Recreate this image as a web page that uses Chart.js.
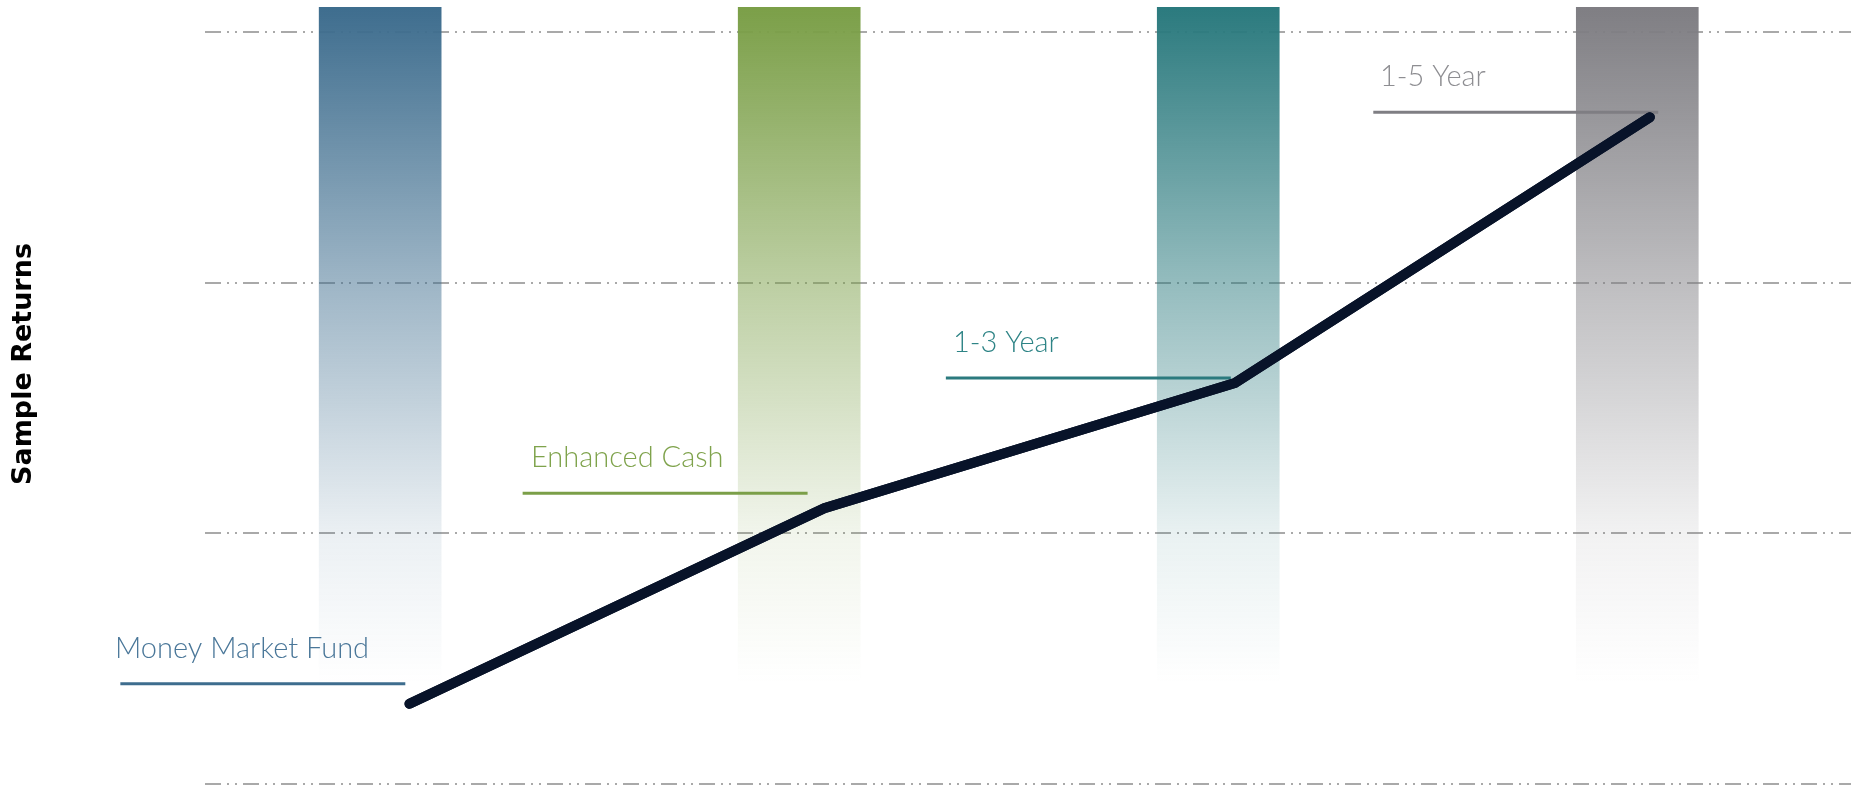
<!DOCTYPE html>
<html>
<head>
<meta charset="utf-8">
<script src="https://cdn.jsdelivr.net/npm/chart.js"></script>
<style>
  html, body { margin: 0; padding: 0; background: #fff; }
  canvas { display: block; }
</style>
</head>
<body>
<canvas id="myChart" width="1865" height="789"></canvas>
<script>
// fund names, in order of risk
var funds = ['Money Market Fund', 'Enhanced Cash', '1-3 Year', '1-5 Year'];

// background columns (floating bars)
var barX = [0, 1, 2, 3];
var barLow = [0.4, 0.4, 0.4, 0.4];
var barHigh = [3.1, 3.1, 3.1, 3.1];

// sample return line
var returnX = [0.07, 1.06, 2.04, 3.03];
var returnY = [0.32, 1.10, 1.60, 2.66];

// label underlines and label text start
var tagStart = [-0.62, 0.34, 1.35, 2.37];
var tagEnd = [0.06, 1.02, 2.03, 3.05];
var tagY = [0.40, 1.16, 1.62, 2.68];
var textStart = [-0.633, 0.36, 1.367, 2.386];

// y gridlines
var gridTicks = [0, 1, 2, 3];

var fundColors = ['#3e6d8e', '#7b9f48', '#2b7a7e', '#7f7e83'];
var textColors = ['#4a7799', '#7fa34c', '#2e8486', '#8e8e92'];

function withAlpha(hex, a) {
    var r = parseInt(hex.substr(1, 2), 16);
    var g = parseInt(hex.substr(3, 2), 16);
    var b = parseInt(hex.substr(5, 2), 16);
    return 'rgba(' + r + ',' + g + ',' + b + ',' + a + ')';
}

function barFill(c) {
    var chart = c.chart;
    if (!chart.chartArea) return fundColors[c.dataIndex];
    var y = chart.scales.y;
    var top = y.getPixelForValue(barHigh[c.dataIndex]);
    var bot = y.getPixelForValue(barLow[c.dataIndex]);
    var col = fundColors[c.dataIndex];
    var g = chart.ctx.createLinearGradient(0, top, 0, bot);
    g.addColorStop(0, withAlpha(col, 1));
    g.addColorStop(0.41, withAlpha(col, 0.5));
    g.addColorStop(0.78, withAlpha(col, 0.1));
    g.addColorStop(1, withAlpha(col, 0));
    return g;
}

var datasets = [{
    type: 'line',
    label: 'Sample Returns',
    data: returnX.map(function (x, i) { return { x: x, y: returnY[i] }; }),
    borderColor: '#081329',
    borderWidth: 10,
    borderCapStyle: 'round',
    borderJoinStyle: 'miter',
    pointRadius: 0,
    tension: 0,
    clip: false,
    order: 0
}];

funds.forEach(function (name, i) {
    datasets.push({
        type: 'line',
        label: name,
        data: [{ x: tagStart[i], y: tagY[i] }, { x: tagEnd[i], y: tagY[i] }],
        borderColor: fundColors[i],
        borderWidth: 3,
        pointRadius: 0,
        clip: false,
        order: 1
    });
});

datasets.push({
    type: 'bar',
    label: 'Range',
    data: barX.map(function (x, i) { return { x: x, y: [barLow[i], barHigh[i]] }; }),
    backgroundColor: barFill,
    borderWidth: 0,
    barThickness: 122,
    order: 2
});

var labelPlugin = {
    id: 'fundLabels',
    afterDraw: function (chart) {
        var ctx = chart.ctx;
        var xs = chart.scales.x, ys = chart.scales.y;

        // keep the return line above the gridlines
        chart.getDatasetMeta(0).controller.draw();

        ctx.save();
        ctx.font = '300 29px Lato';
        ctx.textAlign = 'left';
        ctx.textBaseline = 'alphabetic';
        funds.forEach(function (name, i) {
            ctx.fillStyle = textColors[i];
            ctx.fillText(name, xs.getPixelForValue(textStart[i]), ys.getPixelForValue(tagY[i]) - 26);
        });

        ctx.translate(24, 364);
        ctx.rotate(-Math.PI / 2);
        ctx.font = 'bold 27px "DejaVu Sans"';
        ctx.textAlign = 'center';
        ctx.textBaseline = 'middle';
        ctx.fillStyle = '#000';
        ctx.fillText('Sample Returns', 0, 0);
        ctx.restore();
    }
};

var ctx = document.getElementById('myChart').getContext('2d');
var chart = new Chart(ctx, {
    type: 'bar',
    data: { datasets: datasets },
    options: {
        responsive: false,
        animation: false,
        layout: { padding: { left: 205, right: 14, top: 7, bottom: 5 } },
        plugins: {
            legend: { display: false },
            tooltip: { enabled: false }
        },
        scales: {
            x: { type: 'linear', min: -0.418, max: 3.51, offset: false, display: false },
            y: {
                min: 0,
                max: 3.1,
                z: 1,
                ticks: { display: false },
                grid: { color: '#a9a9a9', lineWidth: 2, drawTicks: false },
                border: { display: false, dash: [16, 6, 2, 6, 2, 6] },
                afterBuildTicks: function (s) {
                    s.ticks = gridTicks.map(function (v) { return { value: v }; });
                }
            }
        }
    },
    plugins: [labelPlugin]
});
</script>
</body>
</html>
